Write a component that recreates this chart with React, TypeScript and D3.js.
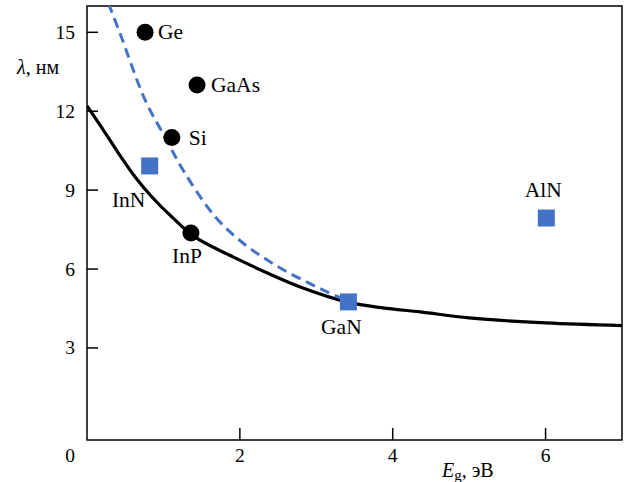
import React from 'react';
import * as d3 from 'd3';

// reference points
const circleNames = ['Ge', 'GaAs', 'Si', 'InP'];
const circleEg = [0.76, 1.44, 1.11, 1.36];
const circleLambda = [15.0, 13.0, 11.0, 7.37];

const squareNames = ['InN', 'GaN', 'AlN'];
const squareEg = [0.82, 3.42, 6.01];
const squareLambda = [9.92, 4.75, 7.94];

// solid curve
const solidEg = [0.0, 0.24, 0.41, 0.63, 0.85, 1.11, 1.41, 1.91, 2.36, 2.79, 3.40, 3.87, 4.36, 5.0, 6.0, 7.0];
const solidLambda = [12.2, 11.17, 10.41, 9.5, 8.74, 7.98, 7.22, 6.46, 5.85, 5.32, 4.75, 4.52, 4.37, 4.14, 3.95, 3.85];

// dashed curve
const dashEg = [0.28, 0.43, 0.76, 1.02, 1.28, 1.68, 2.04, 2.36, 2.62, 2.88, 3.14, 3.38];
const dashLambda = [16.1, 14.98, 12.43, 11.02, 9.65, 7.98, 6.99, 6.34, 5.89, 5.5, 5.13, 4.82];

const xTicks = [2, 4, 6];
const yTicks = [3, 6, 9, 12, 15];

const width = 629;
const height = 482;
const left = 87, right = 622, top = 6, bottom = 440;
const blue = '#4472C4';
const font = 'Liberation Serif';

export default function App() {
    const x = d3.scaleLinear().domain([0, 7]).range([left, right]);
    const y = d3.scaleLinear().domain([-0.5, 16]).range([bottom, top]);

    const line = d3.line<[number, number]>()
        .x(d => x(d[0]))
        .y(d => y(d[1]))
        .curve(d3.curveCatmullRom.alpha(0.5));

    const solid = solidEg.map((e, i) => [e, solidLambda[i]] as [number, number]);
    const dashed = dashEg.map((e, i) => [e, dashLambda[i]] as [number, number]);

    // label offsets relative to marker (text anchor, dx, dy)
    const circleLabel = [
        { dx: 13, dy: 7, anchor: 'start' },
        { dx: 14, dy: 7, anchor: 'start' },
        { dx: 17, dy: 7, anchor: 'start' },
        { dx: -4, dy: 30, anchor: 'middle' },
    ];
    const squareLabel = [
        { dx: -21, dy: 41, anchor: 'middle' },
        { dx: -7, dy: 32, anchor: 'middle' },
        { dx: -3, dy: -21, anchor: 'middle' },
    ];

    return (
        <svg width={width} height={height} style={{ position: 'absolute', left: 0, top: 0 }} fontFamily={font}>
            <defs>
                <clipPath id="plot">
                    <rect x={left} y={top} width={right - left} height={bottom - top} />
                </clipPath>
            </defs>

            {/* frame */}
            <rect x={left} y={top} width={right - left} height={bottom - top} fill="none" stroke="#000" strokeWidth={1.5} />

            {/* x ticks */}
            {xTicks.map(t => (
                <g key={'x' + t}>
                    <line x1={x(t)} x2={x(t)} y1={bottom} y2={bottom - 12} stroke="#000" strokeWidth={1.5} />
                    <text x={x(t)} y={462} textAnchor="middle" fontSize={19.5} fontFamily={font}>{t}</text>
                </g>
            ))}
            <text x={70} y={462} textAnchor="middle" fontSize={19.5} fontFamily={font}>0</text>

            {/* y ticks */}
            {yTicks.map(t => (
                <g key={'y' + t}>
                    <line x1={left} x2={left + 11} y1={y(t)} y2={y(t)} stroke="#000" strokeWidth={1.5} />
                    <text x={75} y={y(t) + 6.5} textAnchor="end" fontSize={19.5} fontFamily={font}>{t}</text>
                </g>
            ))}

            {/* axis titles */}
            <text x={17} y={74} fontSize={20} fontFamily={font}>
                <tspan fontStyle="italic">λ</tspan>, нм
            </text>
            <text x={442} y={477} fontSize={20} fontFamily={font}>
                <tspan fontStyle="italic">E</tspan>
                <tspan fontSize={15} dy={3}>g</tspan>
                <tspan dy={-3}>, эВ</tspan>
            </text>

            {/* curves */}
            <g clipPath="url(#plot)">
                <path d={line(solid) || ''} fill="none" stroke="#000" strokeWidth={3.2} />
                <path d={line(dashed) || ''} fill="none" stroke={blue} strokeWidth={3} strokeDasharray="10 6" />
            </g>

            {/* circles */}
            {circleNames.map((n, i) => (
                <g key={n}>
                    <circle cx={x(circleEg[i])} cy={y(circleLambda[i])} r={8.5} fill="#000" />
                    <text x={x(circleEg[i]) + circleLabel[i].dx} y={y(circleLambda[i]) + circleLabel[i].dy}
                        textAnchor={circleLabel[i].anchor} fontSize={21.5} fontFamily={font}>{n}</text>
                </g>
            ))}

            {/* squares */}
            {squareNames.map((n, i) => (
                <g key={n}>
                    <rect x={x(squareEg[i]) - 8.5} y={y(squareLambda[i]) - 8.5} width={17} height={17} fill={blue} />
                    <text x={x(squareEg[i]) + squareLabel[i].dx} y={y(squareLambda[i]) + squareLabel[i].dy}
                        textAnchor={squareLabel[i].anchor} fontSize={21.5} fontFamily={font}>{n}</text>
                </g>
            ))}
        </svg>
    );
}
